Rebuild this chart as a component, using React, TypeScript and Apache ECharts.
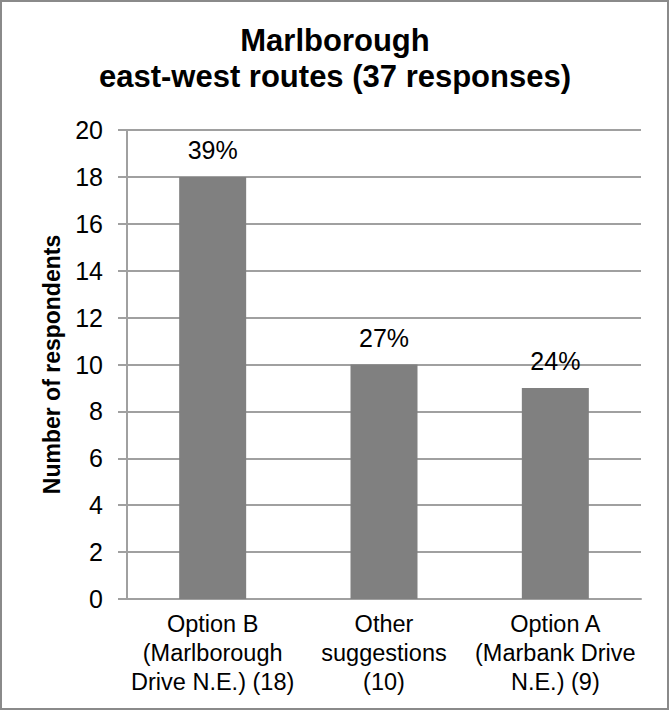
import React, { useEffect, useRef } from "react";
import * as echarts from "echarts";

const categories = [
  "Option B\n(Marlborough\nDrive N.E.) (18)",
  "Other\nsuggestions\n(10)",
  "Option A\n(Marbank Drive\nN.E.) (9)",
];
const values = [18, 10, 9];
const percents = ["39%", "27%", "24%"];
const titleLines = ["Marlborough", "east-west routes (37 responses)"];
const yAxisName = "Number of respondents";

const FONT = "'Liberation Sans', Arial, sans-serif";

export default function App() {
  const ref = useRef<HTMLDivElement>(null);
  useEffect(() => {
    if (!ref.current) return;
    const chart = echarts.init(ref.current, undefined, { renderer: "svg" });
    chart.setOption({
      animation: false,
      backgroundColor: "#ffffff",
      textStyle: { fontFamily: FONT },
      title: {
        text: titleLines.join("\n"),
        left: "center",
        top: 22,
        padding: 0,
        textStyle: {
          fontFamily: FONT,
          fontSize: 31,
          lineHeight: 36,
          fontWeight: "bold",
          color: "#000",
        },
      },
      graphic: [
        {
          type: "rect",
          shape: { x: 1, y: 1, width: 667, height: 708 },
          style: { fill: "none", stroke: "#8a8a8a", lineWidth: 2 },
          silent: true,
        },
      ],
      grid: { left: 127, right: 29, top: 130, bottom: 112, containLabel: false },
      xAxis: {
        type: "category",
        data: categories,
        axisLine: { show: true, lineStyle: { color: "#a0a0a0", width: 2 } },
        axisTick: { show: false },
        axisLabel: {
          interval: 0,
          margin: 10,
          fontFamily: FONT,
          fontSize: 23.5,
          lineHeight: 29,
          color: "#000",
        },
      },
      yAxis: {
        type: "value",
        min: 0,
        max: 20,
        interval: 2,
        name: yAxisName,
        nameLocation: "middle",
        nameRotate: 90,
        nameGap: 64,
        nameTextStyle: {
          fontFamily: FONT,
          fontSize: 23,
          fontWeight: "bold",
          color: "#000",
        },
        axisLine: { show: true, lineStyle: { color: "#a0a0a0", width: 2 } },
        axisTick: { show: true, length: 9, lineStyle: { color: "#a0a0a0", width: 2 } },
        splitLine: { show: true, lineStyle: { color: "#a0a0a0", width: 2 } },
        axisLabel: {
          margin: 24,
          fontFamily: FONT,
          fontSize: 25,
          color: "#000",
        },
      },
      series: [
        {
          type: "bar",
          data: values,
          barWidth: 67,
          itemStyle: { color: "#808080" },
          label: {
            show: true,
            position: "top",
            distance: 14,
            fontFamily: FONT,
            fontSize: 25,
            lineHeight: 25,
            color: "#000",
            formatter: (p: any) => percents[p.dataIndex],
          },
        },
      ],
    });
    return () => chart.dispose();
  }, []);
  return (
    <div
      ref={ref}
      style={{ position: "absolute", left: 0, top: 0, width: 670, height: 711 }}
    />
  );
}
